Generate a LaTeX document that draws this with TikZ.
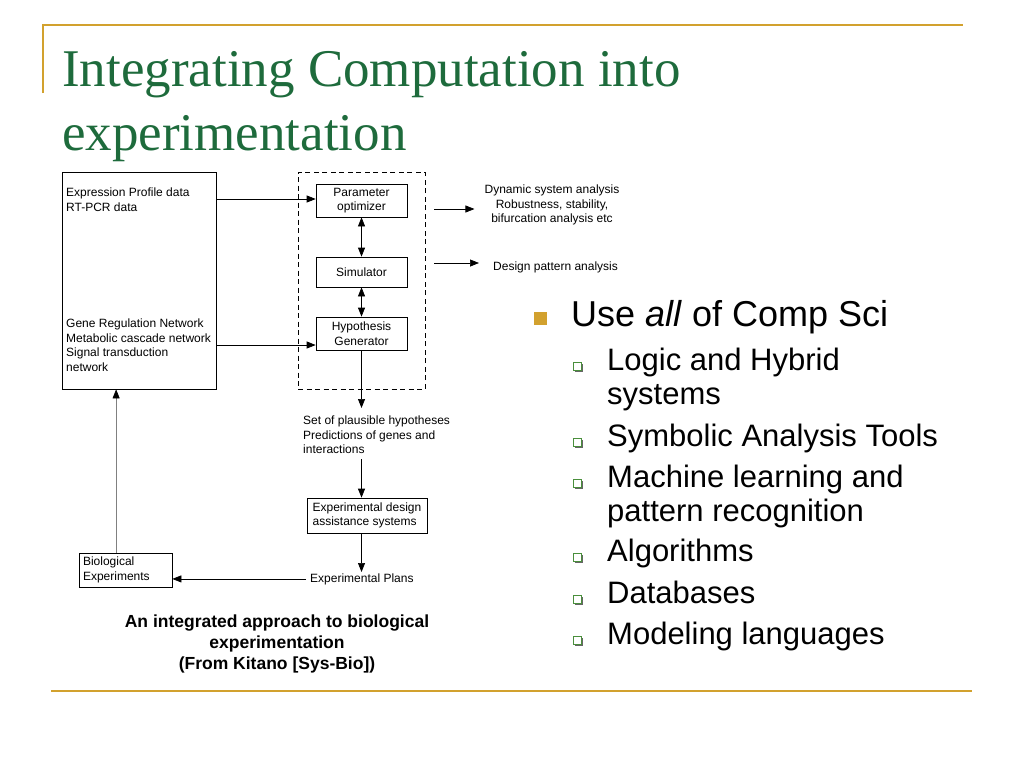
\documentclass[tikz,border=0pt]{standalone}
\usepackage{fontspec}
\setmainfont{Liberation Sans}
\newfontfamily\titlefont{Liberation Serif}
\usetikzlibrary{arrows.meta,positioning,calc}
\definecolor{gold}{HTML}{D2A12E}
\definecolor{ttl}{HTML}{1E6B3C}
\definecolor{sub}{HTML}{4A8F3C}
\newcommand{\dfont}{\fontsize{12}{14.5}\selectfont}
\tikzset{
  blk/.style={draw,line width=0.7pt,minimum width=91pt,minimum height=33pt,align=center,inner sep=1pt,font=\dfont},
  lbl/.style={align=left,inner sep=0pt,font=\dfont},
  ar/.style={-{Triangle[length=9pt,width=7pt,black]},line width=0.7pt},
  dar/.style={{Triangle[length=9pt,width=7pt]}-{Triangle[length=9pt,width=7pt]},line width=0.7pt},
  rule/.style={draw=gold,line width=2pt},
  item/.style={anchor=base west,align=left,inner sep=0pt,font=\fontsize{31}{34}\selectfont},
  sq/.style={draw=sub,fill=white,line width=0.8pt,minimum size=8pt,inner sep=0pt},
}
\begin{document}
\begin{tikzpicture}[x=1pt,y=-1pt]
\useasboundingbox (0,0) rectangle (1024,768);
% slide frame
\draw[rule] (43,93) -- (43,25) -- (963,25);
\draw[rule] (51,691) -- (972,691);
\node[anchor=north west,align=left,inner sep=0pt,text=ttl,font=\titlefont\fontsize{53}{64}\selectfont] (title) at (62,51)
  {Integrating Computation into\\experimentation};

% data boxes
\node[draw,line width=0.7pt,minimum width=154pt,minimum height=217pt,inner sep=0pt] (data) at (139,280.5) {};
\node[lbl,anchor=north west] (expr) at (66,188) {Expression Profile data\\RT-PCR data};
\node[lbl,anchor=north west] (gene) at (66,319) {Gene Regulation Network\\Metabolic cascade network\\Signal transduction\\network};

% model loop
\node[draw,dash pattern=on 5pt off 3.5pt,line width=0.7pt,minimum width=127pt,minimum height=217pt,inner sep=0pt] (dash) at (361.5,280.5) {};
\node[blk] (param) at (361.5,200.5) {Parameter\\optimizer};
\node[blk,minimum height=30pt] (sim) at (361.5,272) {Simulator};
\node[blk] (hyp) at (361.5,333.5) {Hypothesis\\Generator};
\draw[ar] (data.east |- 0,199) -- (param.west |- 0,199);
\draw[ar] (data.east |- 0,345) -- (hyp.west |- 0,345);
\draw[dar] (param) -- (sim);
\draw[dar] (sim) -- (hyp);

% analyses
\node[lbl,align=center,anchor=north] (dyn) at (552,185) {Dynamic system analysis\\Robustness, stability,\\bifurcation analysis etc};
\node[lbl,anchor=west] (pat) at (493,267) {Design pattern analysis};
\coordinate (d1) at (434,209);
\coordinate (d2) at (434,263);
\draw[ar,shorten >=10pt] (d1) -- (dyn.west |- d1);
\draw[ar,shorten >=14pt] (d2) -- (pat.west |- d2);

% experiment chain
\node[lbl,anchor=north west] (hyps) at (303,416) {Set of plausible hypotheses\\Predictions of genes and\\interactions};
\node[blk,align=left,minimum width=120pt,minimum height=35pt,inner xsep=4pt] (expd) at (367,515.5) {Experimental design\\assistance systems};
\node[lbl,anchor=base west] (plans) at (310,582) {Experimental Plans};
\node[draw,line width=0.7pt,lbl,inner sep=4pt,text width=85pt,minimum height=34pt] (bio) at (125.5,570) {Biological\\Experiments};
\draw[ar] (hyp.south) -- (hyp.south |- 0,408);
\draw[ar] (hyp.south |- 0,459) -- (hyp.south |- expd.north);
\draw[ar] (hyp.south |- expd.south) -- (hyp.south |- 0,572);
\draw[ar] ($(plans.west)+(-4,0)$) -- (bio.east |- plans.west);
\coordinate (up) at ($(bio.north west)!0.4!(bio.north east)$);
\draw[ar,draw=gray] (up) -- (up |- data.south);

\node[align=center,inner sep=0pt,anchor=north,font=\bfseries\fontsize{17.5}{21}\selectfont] (cap) at (277,615)
  {An integrated approach to biological\\experimentation\\(From Kitano [Sys-Bio])};

% bullets
\node[fill=gold,minimum size=13pt,inner sep=0pt] (b0) at (540,318) {};
\node[item,font=\fontsize{36}{40}\selectfont] (use) at (571,326) {Use \textit{all} of Comp Sci};
\fill[black!60] (575,364) rectangle (583,372);
\node[sq] (s1) at (577.5,366.5) {};
\node[item] (t1) at (607,370) {Logic and Hybrid};
\node[item] (t1b) at (607,404) {systems};
\fill[black!60] (575,440) rectangle (583,448);
\node[sq] (s2) at (577.5,442.5) {};
\node[item] (t2) at (607,446) {Symbolic Analysis Tools};
\fill[black!60] (575,481) rectangle (583,489);
\node[sq] (s3) at (577.5,483.5) {};
\node[item] (t3) at (607,487) {Machine learning and};
\node[item] (t3b) at (607,521) {pattern recognition};
\fill[black!60] (575,555) rectangle (583,563);
\node[sq] (s4) at (577.5,557.5) {};
\node[item] (t4) at (607,561) {Algorithms};
\fill[black!60] (575,597) rectangle (583,605);
\node[sq] (s5) at (577.5,599.5) {};
\node[item] (t5) at (607,603) {Databases};
\fill[black!60] (575,638) rectangle (583,646);
\node[sq] (s6) at (577.5,640.5) {};
\node[item] (t6) at (607,644) {Modeling languages};
\end{tikzpicture}
\end{document}
